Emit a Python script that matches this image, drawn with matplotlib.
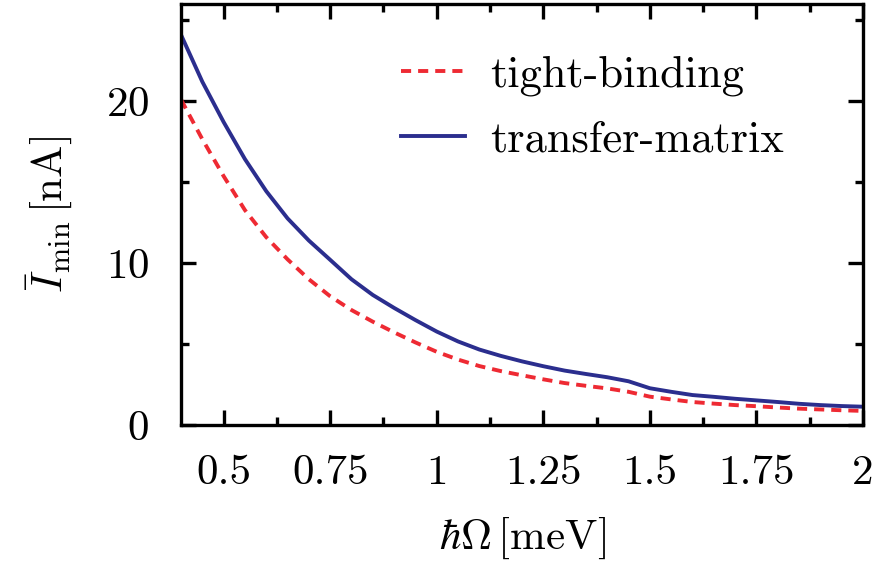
import matplotlib
matplotlib.use("Agg")
import matplotlib.pyplot as plt
from matplotlib.ticker import MultipleLocator, FixedLocator

matplotlib.rcParams['font.family'] = 'serif'
matplotlib.rcParams['font.serif'] = ['cmr10']
matplotlib.rcParams['mathtext.fontset'] = 'cm'
matplotlib.rcParams['axes.unicode_minus'] = False
matplotlib.rcParams['axes.formatter.use_mathtext'] = True

# photon energy (meV)
omega = [0.40, 0.45, 0.50, 0.55, 0.60, 0.65, 0.70, 0.75, 0.80, 0.85,
         0.90, 0.95, 1.00, 1.05, 1.10, 1.15, 1.20, 1.25, 1.30, 1.35,
         1.40, 1.45, 1.50, 1.55, 1.60, 1.65, 1.70, 1.75, 1.80, 1.85,
         1.90, 1.95, 2.00]

# minimal current (nA)
i_tb = [20.1, 17.65, 15.37, 13.27, 11.6, 10.23, 9.0, 7.95, 7.1, 6.38,
        5.72, 5.1, 4.52, 4.04, 3.64, 3.33, 3.07, 2.82, 2.59, 2.42,
        2.26, 2.05, 1.75, 1.58, 1.42, 1.32, 1.23, 1.16, 1.08, 1.01,
        0.96, 0.91, 0.87]
i_tm = [24.1, 21.2, 18.71, 16.42, 14.44, 12.76, 11.39, 10.2, 9.0, 8.03,
        7.23, 6.48, 5.77, 5.16, 4.66, 4.27, 3.93, 3.63, 3.36, 3.15,
        2.95, 2.70, 2.27, 2.05, 1.85, 1.74, 1.62, 1.52, 1.42, 1.31,
        1.23, 1.17, 1.13]

xticks = [0.5, 0.75, 1, 1.25, 1.5, 1.75, 2]
xticklabels = ['0.5', '0.75', '1', '1.25', '1.5', '1.75', '2']

fig = plt.figure(figsize=(8.77, 5.80), dpi=100)
ax = fig.add_axes([181/877, 1 - 425/580, (863 - 181)/877, (425 - 4)/580])

ax.plot(omega, i_tb, color='#ee2a33', lw=2.8, dashes=(2.6, 1.8),
        label='tight-binding')
ax.plot(omega, i_tm, color='#2b2e8e', lw=2.8, label='transfer-matrix')

ax.set_xlim(0.4, 2)
ax.set_ylim(0, 26)
ax.xaxis.set_major_locator(FixedLocator(xticks))
ax.set_xticklabels(xticklabels)
ax.xaxis.set_minor_locator(MultipleLocator(0.125))
ax.yaxis.set_major_locator(MultipleLocator(10))
ax.yaxis.set_minor_locator(MultipleLocator(5))

for s in ax.spines.values():
    s.set_linewidth(2.4)
ax.tick_params(which='both', direction='in', top=True, right=True,
               width=2.4, labelsize=31)
ax.tick_params(which='major', length=11)
ax.tick_params(which='minor', length=6)
ax.tick_params(axis='x', which='major', pad=21)
ax.tick_params(axis='y', which='major', pad=23)

ax.set_xlabel(r'$\hbar\Omega\,[\mathrm{meV}]$', fontsize=31, labelpad=17)
ax.set_ylabel(r'$\bar{I}_{\min}\,[\mathrm{nA}]$', fontsize=31, labelpad=22)

ax.legend(loc='upper right', frameon=False, fontsize=32, handlelength=1.42,
          handletextpad=0.58, labelspacing=0.55,
          bbox_to_anchor=(0.943, 0.972))

fig.savefig('out.png', dpi=100)
